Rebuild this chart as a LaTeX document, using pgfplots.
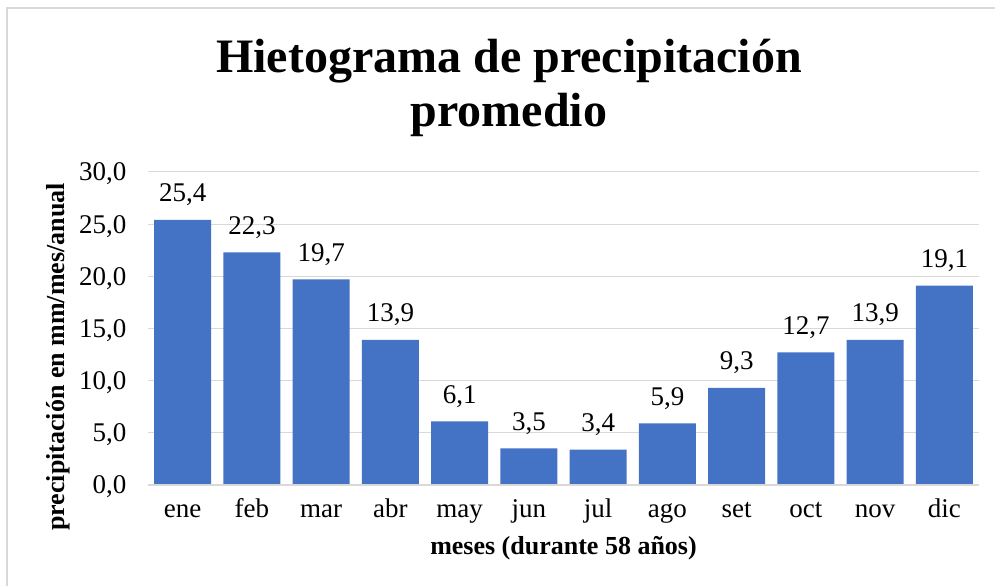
\documentclass[border=0pt]{standalone}
\usepackage{pgfplots}
\pgfplotsset{compat=1.18}
\usepackage{fontspec}
\setmainfont{Liberation Serif}
\definecolor{barblue}{HTML}{4472C4}
\definecolor{gridgray}{HTML}{D9D9D9}
\begin{document}
\begin{tikzpicture}[x=1pt,y=1pt]
\useasboundingbox (0,0) rectangle (995,586);
\draw[gridgray, line width=1.2pt] (7,0) -- (7,578) -- (995,578);
\node[font=\bfseries\fontsize{48}{53}\selectfont, anchor=base] at (509,513) {Hietograma de precipitación};
\node[font=\bfseries\fontsize{48}{53}\selectfont, anchor=base] at (509,459) {promedio};
\begin{axis}[
  at={(148pt,101pt)}, anchor=south west,
  scale only axis, width=831pt, height=313pt,
  xmin=-0.5, xmax=11.5, ymin=0, ymax=30,
  xtick={0,...,11},
  xticklabels={ene,feb,mar,abr,may,jun,jul,ago,set,oct,nov,dic},
  ytick={0,5,...,30},
  ymajorgrids, grid style={gridgray, line width=1pt},
  axis line style={draw=none},
  axis x line*=bottom, axis y line*=left,
  major tick length=0pt,
  tick label style={font=\fontsize{27}{30}\selectfont},
  /pgf/number format/assume math mode=true,
  yticklabel style={anchor=base east, yshift=-9pt, xshift=-18pt, /pgf/number format/.cd, fixed, fixed zerofill, precision=1, use comma},
  xticklabel style={anchor=base, yshift=-32pt},
  ylabel={\bfseries precipitación en mm/mes/anual},
  xlabel={\bfseries meses (durante 58 años)},
  label style={font=\fontsize{26}{30}\selectfont},
  ylabel style={at={(axis description cs:-0.0999,0.409)}, anchor=base},
  xlabel style={at={(axis description cs:0.5,-0.2236)}, anchor=base},
  clip=false,
]
\addplot[ybar, bar width=57pt, fill=barblue, draw=none,
  nodes near coords,
  every node near coord/.append style={font=\fontsize{27}{30}\selectfont, black, anchor=base, yshift=18pt},
  nodes near coords style={/pgf/number format/.cd, fixed, fixed zerofill, precision=1, use comma, assume math mode=true},
] coordinates {
(0,25.4) (1,22.3) (2,19.7) (3,13.9) (4,6.1) (5,3.5) (6,3.4) (7,5.9) (8,9.3) (9,12.7) (10,13.9) (11,19.1)
};
\draw[gridgray, line width=1.2pt] (axis cs:-0.5,0) -- (axis cs:11.5,0);
\end{axis}
\end{tikzpicture}
\end{document}
